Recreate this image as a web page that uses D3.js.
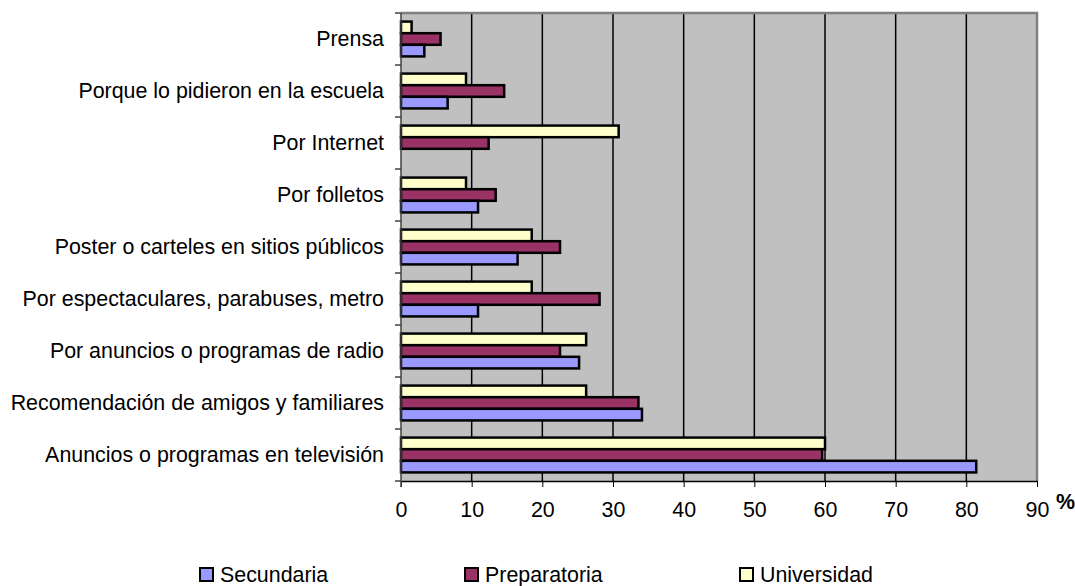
<!DOCTYPE html>
<html>
<head>
<meta charset="utf-8">
<script src="https://cdn.jsdelivr.net/npm/d3@7"></script>
<style>
body{margin:0;background:#fff;}
text{font-family:"Liberation Sans",Arial,sans-serif;}
</style>
</head>
<body>
<svg id="chart" width="1075" height="586"></svg>
<script>
// categories, top to bottom
var categories=["Prensa","Porque lo pidieron en la escuela","Por Internet","Por folletos",
	"Poster o carteles en sitios públicos","Por espectaculares, parabuses, metro",
	"Por anuncios o programas de radio","Recomendación de amigos y familiares",
	"Anuncios o programas en televisión"];
var seriesNames=["Universidad","Preparatoria","Secundaria"]; // order inside each group, top to bottom
var universidad=[1.5,9.2,30.8,9.2,18.5,18.5,26.2,26.2,60.0];
var preparatoria=[5.6,14.6,12.4,13.4,22.5,28.1,22.5,33.6,59.6];
var secundaria=[3.3,6.6,0,10.9,16.5,10.9,25.2,34.1,81.4];
var colors={"Secundaria":"#9999ff","Preparatoria":"#993366","Universidad":"#ffffcc"};
var legendNames=["Secundaria","Preparatoria","Universidad"];
var xTicks=[0,10,20,30,40,50,60,70,80,90];

var values={"Universidad":universidad,"Preparatoria":preparatoria,"Secundaria":secundaria};

var svg=d3.select("#chart");
var pLeft=401,pRight=1037,pTop=13,pBottom=481; // plot area (window.top is reserved, hence the p prefix)
var fs=21.4;
var legendX=[200,465,740]; // left edge of each legend square

var x=d3.scaleLinear().domain([0,90]).range([pLeft,pRight]);
var y=d3.scaleBand().domain(categories).range([pTop,pBottom]).paddingInner(0.33).paddingOuter(0.165);
var inner=d3.scaleBand().domain(seriesNames).range([0,y.bandwidth()]);

// gray plot background
svg.append("rect").attr("x",pLeft).attr("y",pTop).attr("width",pRight-pLeft).attr("height",pBottom-pTop).style("fill","#c0c0c0");

// vertical gridlines
svg.append("g").selectAll("line").data(xTicks.slice(1,-1)).enter().append("line")
	.attr("x1",function(d){return x(d);}).attr("x2",function(d){return x(d);})
	.attr("y1",pTop).attr("y2",pBottom).attr("stroke","#000").attr("stroke-width",1.5);

// top and right border
svg.append("path").attr("d","M"+pLeft+","+pTop+"H"+pRight+"V"+pBottom)
	.style("fill","none").attr("stroke","#808080").attr("stroke-width",2.5);

// bars
var rows=[];
categories.forEach(function(c,i){
	seriesNames.forEach(function(s){rows.push({cat:c,s:s,v:values[s][i]});});
});
svg.append("g").selectAll("rect").data(rows.filter(function(d){return d.v>0;})).enter().append("rect")
	.attr("x",x(0))
	.attr("y",function(d){return y(d.cat)+inner(d.s);})
	.attr("width",function(d){return x(d.v)-x(0);})
	.attr("height",inner.bandwidth())
	.style("fill",function(d){return colors[d.s];})
	.attr("stroke","#000").attr("stroke-width",2.5);

// x axis
var xAxis=d3.axisBottom(x).tickValues(xTicks).tickSize(6).tickSizeOuter(0);
var gx=svg.append("g").attr("transform","translate(0,"+pBottom+")").call(xAxis);
gx.select(".domain").attr("stroke","#000").attr("stroke-width",1.5);
gx.selectAll(".tick line").attr("stroke","#000");
gx.selectAll("text").attr("font-size",fs).attr("dy","1.27em").attr("fill","#000")
	.style("font-family","'Liberation Sans',Arial,sans-serif");

// y axis (category boundaries as ticks)
var gy=svg.append("g");
gy.append("line").attr("x1",pLeft).attr("x2",pLeft).attr("y1",pTop).attr("y2",pBottom+6).attr("stroke","#404040").attr("stroke-width",1.5);
var bounds=d3.range(categories.length+1).map(function(i){return pTop+i*(pBottom-pTop)/categories.length;});
gy.selectAll("line.t").data(bounds).enter().append("line").attr("class","t")
	.attr("x1",pLeft-6).attr("x2",pLeft).attr("y1",function(d){return d;}).attr("y2",function(d){return d;})
	.attr("stroke","#404040").attr("stroke-width",1.5);
gy.selectAll("text").data(categories).enter().append("text")
	.attr("x",384).attr("y",function(d){return y(d)+y.bandwidth()/2;})
	.attr("text-anchor","end").attr("dy","0.35em").attr("font-size",fs).text(function(d){return d;});

// % label
svg.append("text").attr("x",1056).attr("y",509).attr("font-size",fs).attr("font-weight","bold").text("%");

// legend
var lg=svg.append("g").selectAll("g").data(legendNames).enter().append("g")
	.attr("transform",function(d,i){return "translate("+legendX[i]+",568)";});
lg.append("rect").attr("width",13).attr("height",13).style("fill",function(d){return colors[d];})
	.attr("stroke","#000").attr("stroke-width",2);
lg.append("text").attr("x",20).attr("y",14).attr("font-size",fs).text(function(d){return d;});
</script>
</body>
</html>
